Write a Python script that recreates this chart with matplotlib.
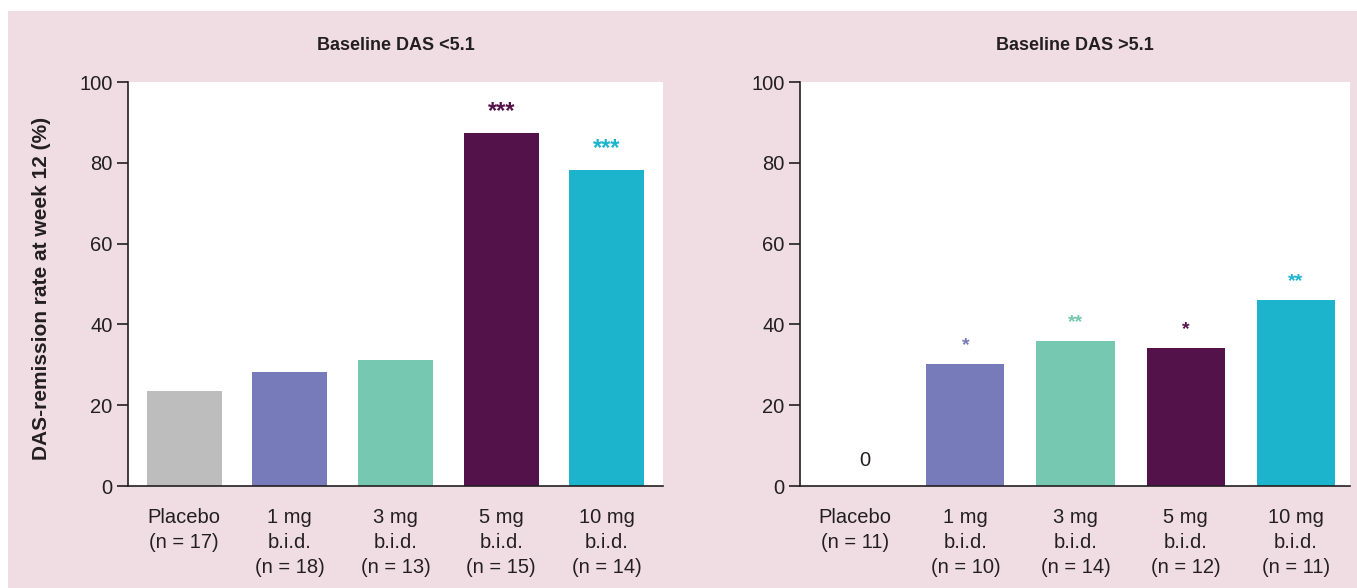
import matplotlib.pyplot as plt
import matplotlib.patches as patches

plt.rcParams["font.family"] = ["Liberation Sans", "DejaVu Sans"]

PINK = "#EFDDE3"
TEXT = "#231F20"

groups_low = ["Placebo\n(n = 17)", "1 mg\nb.i.d.\n(n = 18)", "3 mg\nb.i.d.\n(n = 13)",
              "5 mg\nb.i.d.\n(n = 15)", "10 mg\nb.i.d.\n(n = 14)"]
groups_high = ["Placebo\n(n = 11)", "1 mg\nb.i.d.\n(n = 10)", "3 mg\nb.i.d.\n(n = 14)",
               "5 mg\nb.i.d.\n(n = 12)", "10 mg\nb.i.d.\n(n = 11)"]
remission_low = [23.6, 28.2, 31.1, 87.4, 78.2]
remission_high = [0, 30.2, 35.8, 34.2, 46.0]
stars_low = ["", "", "", "***", "***"]
stars_high = ["", "*", "**", "*", "**"]
bar_colors = ["#BDBDBD", "#777BB9", "#77C8B0", "#53134A", "#1CB4CD"]

fig = plt.figure(figsize=(13.57, 5.88), dpi=100, facecolor="white")
fig.patches.append(patches.Rectangle((8 / 1357, 0), 1, 1 - 11 / 588,
                                     transform=fig.transFigure, facecolor=PINK,
                                     edgecolor="none", zorder=-10))

ax1 = fig.add_axes([128 / 1357, 1 - 486 / 588, 535 / 1357, 404 / 588])
ax2 = fig.add_axes([800 / 1357, 1 - 486 / 588, 550 / 1357, 404 / 588])


def draw_panel(ax, labels, values, stars, title, xlim, star_size):
    x = range(len(values))
    ax.bar(x, values, width=0.71, color=bar_colors, zorder=2)
    for i, (v, s) in enumerate(zip(values, stars)):
        if s:
            ax.text(i, v + 2.5, s, ha="center", va="bottom", color=bar_colors[i],
                    fontsize=star_size, fontweight="bold")
    ax.set_xlim(*xlim)
    ax.set_ylim(0, 100)
    ax.set_yticks([0, 20, 40, 60, 80, 100])
    ax.set_xticks(list(x))
    ax.set_xticklabels(labels, linespacing=1.4)
    ax.tick_params(axis="x", length=0, pad=16, labelsize=14.5, colors=TEXT)
    ax.tick_params(axis="y", length=8, width=1.2, direction="out", labelsize=14.5,
                   colors=TEXT, pad=3)
    for side in ["top", "right"]:
        ax.spines[side].set_visible(False)
    for side in ["left", "bottom"]:
        ax.spines[side].set_linewidth(1.2)
        ax.spines[side].set_color(TEXT)
    for lbl in ax.get_xticklabels():
        lbl.set_verticalalignment("top")
    ax.set_title(title, fontsize=13, fontweight="bold", color=TEXT, pad=23)


draw_panel(ax1, groups_low, remission_low, stars_low, "Baseline DAS <5.1", (-0.53, 4.53), 17)
draw_panel(ax2, groups_high, remission_high, stars_high, "Baseline DAS >5.1", (-0.5, 4.49), 14)
ax2.text(0.09, 4, "0", ha="center", va="bottom", fontsize=14.5, color=TEXT)

ax1.set_ylabel("DAS-remission rate at week 12 (%)", fontsize=15, fontweight="bold",
               color=TEXT)
ax1.yaxis.set_label_coords(-0.143, 0.49)

fig.savefig("out.png", dpi=100, facecolor=fig.get_facecolor())
